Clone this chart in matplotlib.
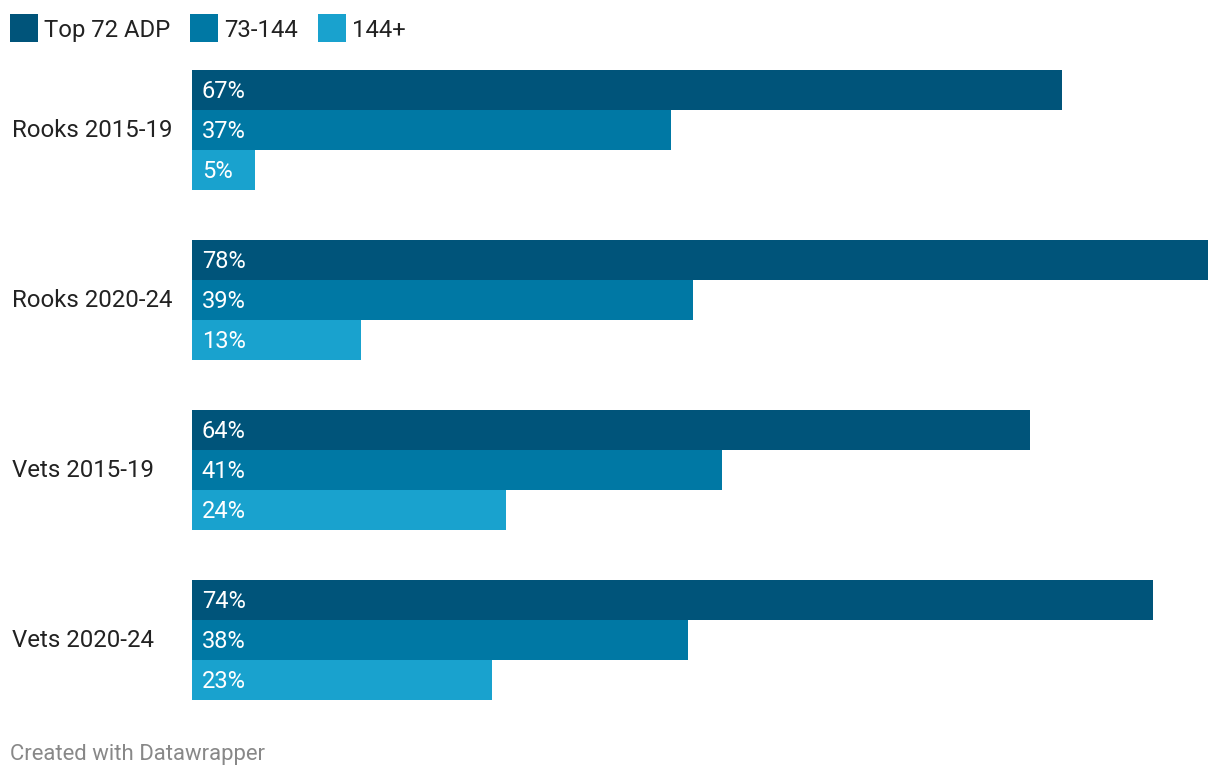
import numpy as np
import matplotlib.pyplot as plt
from matplotlib.patches import Rectangle

plt.rcParams['font.family'] = ['Roboto', 'DejaVu Sans']

groups = ["Rooks 2015-19", "Rooks 2020-24", "Vets 2015-19", "Vets 2020-24"]
series = ["Top 72 ADP", "73-144", "144+"]
top72 = [66.8, 78.0, 64.3, 73.8]
mid = [36.8, 38.5, 40.7, 38.1]
late = [4.8, 13.0, 24.1, 23.0]
labels_top72 = ["67%", "78%", "64%", "74%"]
labels_mid = ["37%", "39%", "41%", "38%"]
labels_late = ["5%", "13%", "24%", "23%"]

colors = ["#00547a", "#0078a4", "#19a2ce"]
W, H = 1220, 776
fig = plt.figure(figsize=(W / 100, H / 100), dpi=100)

bh = 40 / 170
ax = fig.add_axes([192 / W, (H - 700) / H, (1208 - 192) / W, 630 / H])
ax.set_xlim(0, 78)
ax.set_ylim(3 + 1.5 * bh, -1.5 * bh)
ax.axis('off')

vals = [top72, mid, late]
labs = [labels_top72, labels_mid, labels_late]
y = np.arange(len(groups))
for j in range(3):
    pos = y + (j - 1) * bh
    ax.barh(pos, vals[j], height=bh, color=colors[j], linewidth=0)
    for p, lab in zip(pos, labs[j]):
        ax.text(0.75, p - 0.006, lab, color="white", fontsize=17,
                va="center_baseline", ha="left")

for i, g in enumerate(groups):
    yy = 128 + 170 * i
    fig.text(12 / W, 1 - yy / H, g, fontsize=17.3, color="#222222",
             va="center_baseline", ha="left")

# legend
lx = [10, 190, 318]
for x0, name, c in zip(lx, series, colors):
    fig.patches.append(Rectangle((x0 / W, 1 - 42 / H), 28 / W, 28 / H,
                                 transform=fig.transFigure, color=c, linewidth=0))
    fig.text((x0 + 34) / W, 1 - 28 / H, name, fontsize=17.2, color="#222222",
             va="center_baseline", ha="left")

fig.text(10 / W, 1 - 752 / H, "Created with Datawrapper", fontsize=15.9,
         color="#888888", va="center_baseline", ha="left")

plt.savefig("out.png", dpi=100)
